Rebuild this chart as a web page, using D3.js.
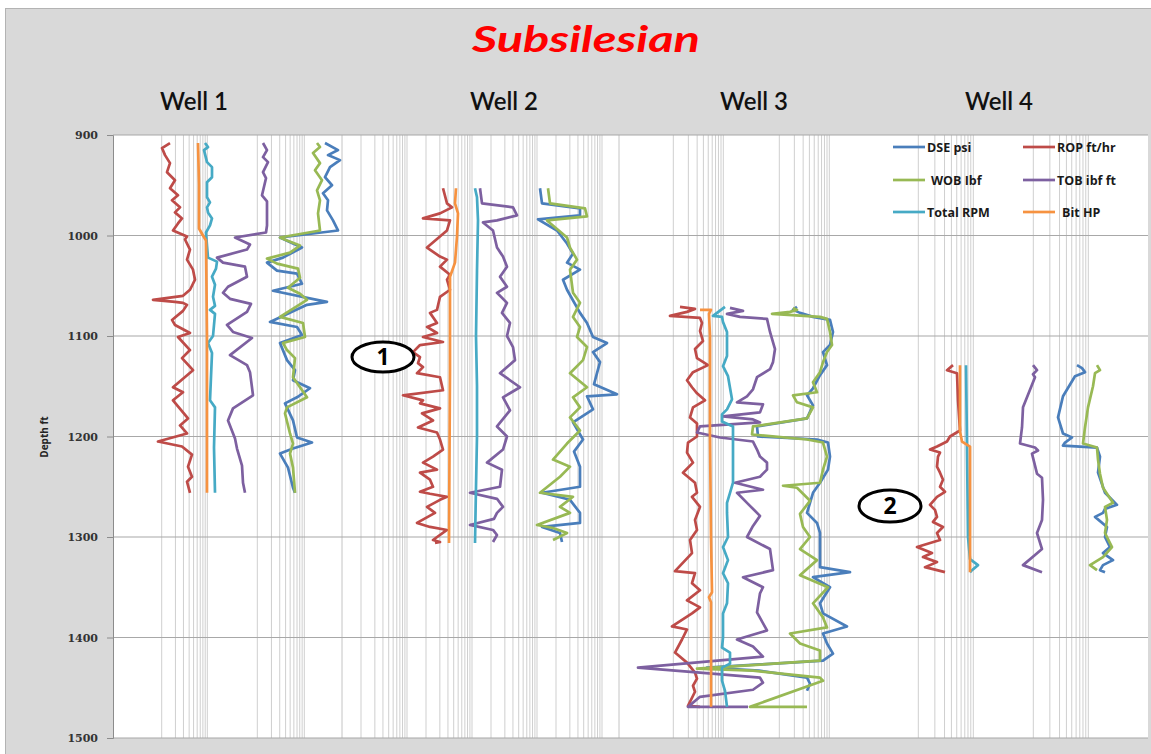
<!DOCTYPE html>
<html>
<head>
<meta charset="utf-8">
<script src="https://cdn.jsdelivr.net/npm/d3@7"></script>
<style>
  body { margin: 0; background: #fff; }
  svg text { font-family: "Open Sans", sans-serif; }
</style>
</head>
<body>
<div id="chart"></div>
<script>
// chart labels
var chartTitle = "Subsilesian";
var wellNames = ["Well 1", "Well 2", "Well 3", "Well 4"];
var seriesNames = ["DSE psi", "ROP ft/hr", "WOB Ibf", "TOB ibf ft", "Total RPM", "Bit HP"];
var depthTicks = [900, 1000, 1100, 1200, 1300, 1400, 1500];

// each series: [depth ft, track position]
var w1_dse = [[908,212],[915,225],[920,215],[925,227],[932,217],[942,212],[950,219],[958,210],[965,215],[975,214],[985,220],[995,225],[1002,167],[1008,180],[1012,189],[1022,170],[1027,154],[1035,164],[1038,184],[1048,189],[1055,160],[1064,204],[1066,214],[1069,194],[1086,157],[1091,184],[1099,189],[1107,167],[1124,174],[1134,182],[1144,180],[1152,197],[1161,184],[1167,172],[1184,180],[1201,184],[1206,199],[1212,180],[1217,167],[1231,175],[1251,180],[1256,182]];
var w1_rop = [[908,57],[913,49],[920,52],[928,57],[937,54],[945,62],[953,57],[960,65],[965,59],[972,67],[977,62],[983,69],[988,65],[995,60],[1001,74],[1004,72],[1014,77],[1024,74],[1034,80],[1044,82],[1050,79],[1054,77],[1060,70],[1064,40],[1066,62],[1067,70],[1069,74],[1075,70],[1084,59],[1089,62],[1097,77],[1101,65],[1114,77],[1122,69],[1134,80],[1151,60],[1156,70],[1164,60],[1182,75],[1189,67],[1197,74],[1205,45],[1210,69],[1218,79],[1230,75],[1240,79],[1245,74],[1256,77]];
var w1_wob = [[908,204],[912,207],[918,200],[928,207],[935,202],[945,209],[955,204],[965,207],[978,205],[995,207],[1002,167],[1005,174],[1010,187],[1017,177],[1023,154],[1028,164],[1033,185],[1042,187],[1052,175],[1058,187],[1064,194],[1081,167],[1087,190],[1101,192],[1107,170],[1114,174],[1122,182],[1141,180],[1161,194],[1171,174],[1177,172],[1197,177],[1207,180],[1217,177],[1231,180],[1256,182]];
var w1_tob = [[908,150],[915,154],[922,150],[927,155],[937,150],[943,153],[960,149],[966,154],[990,154],[997,153],[1002,122],[1009,137],[1014,134],[1022,104],[1027,110],[1031,132],[1041,134],[1051,115],[1057,110],[1063,117],[1068,138],[1076,134],[1089,114],[1096,120],[1102,139],[1119,117],[1129,134],[1136,137],[1159,140],[1172,120],[1184,115],[1202,122],[1212,124],[1229,129],[1246,130],[1256,132]];
var w1_rpm = [[908,92],[912,95],[915,91],[927,94],[932,99],[942,99],[947,94],[962,94],[967,97],[972,94],[977,95],[983,99],[990,97],[997,93],[1010,94],[1022,95],[1026,104],[1033,103],[1041,99],[1049,102],[1061,100],[1070,102],[1074,97],[1078,102],[1100,100],[1107,95],[1117,99],[1164,97],[1171,102],[1211,101],[1256,102]];
var w1_bhp = [[908,85],[950,86],[993,86],[1000,90],[1005,93],[1100,94],[1200,94],[1256,94]];

var w2_dse = [[953,198],[968,200],[973,238],[980,238],[984,196],[995,215],[1008,225],[1018,231],[1027,225],[1034,238],[1044,221],[1054,225],[1077,238],[1087,245],[1101,251],[1107,265],[1116,251],[1126,258],[1137,255],[1148,252],[1158,275],[1160,245],[1173,251],[1186,231],[1203,241],[1215,232],[1230,238],[1250,238],[1256,200],[1263,228],[1276,238],[1286,238],[1290,200],[1296,218],[1305,220]];
var w2_rop = [[953,101],[968,105],[972,110],[978,98],[983,81],[985,108],[995,105],[1012,85],[1021,98],[1024,105],[1031,98],[1039,108],[1044,105],[1054,108],[1061,98],[1074,95],[1077,88],[1087,95],[1091,85],[1097,95],[1101,81],[1106,101],[1109,78],[1116,71],[1121,78],[1127,76],[1131,81],[1137,75],[1141,98],[1154,101],[1159,61],[1164,81],[1167,78],[1172,98],[1177,80],[1184,91],[1191,76],[1196,95],[1203,98],[1213,101],[1220,91],[1226,81],[1233,95],[1236,78],[1243,88],[1250,91],[1255,78],[1257,88],[1260,105],[1263,98],[1270,85],[1276,93],[1286,75],[1290,88],[1293,105],[1303,91],[1305,98],[1306,93]];
var w2_wob = [[953,206],[968,208],[973,243],[981,245],[985,205],[1002,225],[1012,228],[1024,235],[1034,228],[1057,231],[1067,238],[1081,231],[1091,238],[1101,235],[1111,245],[1124,241],[1137,228],[1151,245],[1161,231],[1171,238],[1181,228],[1194,238],[1207,225],[1223,211],[1230,228],[1240,218],[1256,198],[1260,231],[1270,218],[1276,228],[1288,195],[1291,211],[1296,225],[1303,211]];
var w2_tob = [[953,138],[968,140],[972,171],[980,175],[985,155],[987,141],[995,151],[1012,155],[1021,161],[1031,165],[1041,158],[1051,165],[1057,155],[1067,165],[1077,160],[1087,168],[1100,165],[1111,171],[1124,173],[1137,158],[1151,178],[1161,161],[1174,168],[1190,155],[1200,165],[1213,161],[1226,145],[1233,160],[1250,158],[1256,128],[1262,155],[1270,161],[1276,155],[1282,152],[1288,128],[1293,151],[1298,155],[1305,151]];
var w2_rpm = [[953,133],[962,135],[985,136],[1035,135],[1100,134],[1150,135],[1200,135],[1250,134],[1306,133]];
var w2_bhp = [[953,114],[968,113],[978,116],[1001,115],[1027,113],[1041,108],[1134,108],[1306,107]];

var w3_dse = [[1071,178],[1074,174],[1077,181],[1081,194],[1084,211],[1096,214],[1109,211],[1116,204],[1129,208],[1139,201],[1152,194],[1159,188],[1169,194],[1182,188],[1190,138],[1200,139],[1203,198],[1206,209],[1220,211],[1233,209],[1246,201],[1256,194],[1266,191],[1276,188],[1286,198],[1296,201],[1330,201],[1335,231],[1340,194],[1350,211],[1366,201],[1376,204],[1389,228],[1396,204],[1406,208],[1416,214],[1423,204],[1430,88],[1433,140],[1440,188],[1446,191],[1453,188]];
var w3_rop = [[1071,61],[1073,76],[1076,68],[1080,51],[1082,81],[1087,83],[1095,81],[1105,84],[1113,76],[1122,78],[1129,89],[1136,74],[1144,68],[1151,73],[1157,78],[1164,86],[1171,74],[1181,71],[1187,78],[1200,78],[1206,69],[1216,68],[1226,74],[1236,64],[1246,76],[1256,78],[1260,73],[1270,81],[1283,76],[1293,78],[1303,71],[1316,73],[1334,56],[1336,76],[1346,73],[1353,81],[1363,68],[1370,81],[1376,73],[1389,53],[1392,68],[1402,63],[1415,56],[1425,68],[1435,76],[1441,78],[1448,74],[1454,76],[1468,69],[1469,81]];
var w3_wob = [[1072,174],[1074,178],[1076,171],[1078,153],[1081,201],[1083,208],[1096,211],[1109,213],[1116,208],[1126,204],[1136,201],[1146,194],[1156,198],[1159,174],[1166,178],[1171,194],[1182,188],[1190,134],[1198,133],[1203,188],[1206,204],[1220,208],[1233,204],[1246,201],[1249,164],[1251,178],[1264,191],[1277,181],[1290,184],[1300,191],[1312,181],[1323,198],[1338,181],[1350,209],[1366,194],[1380,204],[1390,208],[1396,171],[1406,181],[1413,201],[1423,201],[1431,78],[1433,134],[1440,201],[1443,204],[1469,131],[1469,188]];
var w3_tob = [[1072,111],[1075,124],[1078,108],[1081,121],[1083,148],[1096,151],[1113,156],[1126,154],[1133,151],[1141,138],[1153,134],[1160,128],[1166,118],[1168,144],[1176,141],[1180,104],[1183,134],[1186,141],[1190,81],[1196,78],[1201,101],[1205,134],[1213,138],[1220,141],[1226,148],[1233,148],[1240,141],[1246,116],[1253,144],[1256,118],[1266,128],[1279,141],[1289,134],[1300,128],[1312,151],[1333,154],[1340,124],[1350,144],[1356,141],[1375,138],[1393,148],[1402,118],[1409,134],[1419,144],[1430,19],[1435,81],[1440,141],[1445,144],[1452,134],[1459,81],[1469,69],[1469,129]];
var w3_rpm = [[1071,106],[1080,94],[1081,103],[1086,104],[1096,108],[1120,108],[1130,104],[1140,109],[1163,113],[1173,108],[1178,103],[1185,103],[1190,114],[1200,114],[1226,114],[1246,114],[1256,111],[1266,108],[1276,108],[1300,109],[1310,104],[1323,109],[1336,104],[1346,109],[1366,108],[1376,104],[1400,104],[1410,103],[1415,111],[1426,111],[1430,103],[1443,103],[1453,106],[1469,108]];
var w3_bhp = [[1074,81],[1074,92],[1078,90],[1100,91],[1200,91],[1300,92],[1355,93],[1360,90],[1365,92],[1469,92]];

var w4_dse = [[1129,217],[1132,222],[1136,225],[1140,215],[1160,203],[1181,198],[1197,203],[1201,212],[1206,205],[1209,203],[1211,237],[1220,240],[1236,238],[1256,245],[1261,250],[1268,257],[1272,245],[1276,243],[1280,235],[1290,247],[1300,245],[1310,250],[1316,243],[1323,253],[1328,243],[1333,240],[1335,245]];
var w4_rop = [[1129,93],[1134,87],[1137,97],[1164,98],[1194,100],[1200,90],[1205,87],[1210,77],[1213,70],[1216,80],[1220,78],[1230,77],[1236,80],[1243,83],[1250,80],[1255,85],[1260,77],[1268,70],[1273,75],[1280,77],[1285,73],[1290,83],[1296,77],[1303,80],[1310,57],[1316,72],[1320,63],[1325,77],[1330,65],[1335,85]];
var w4_wob = [[1129,237],[1134,240],[1137,235],[1150,233],[1171,228],[1191,225],[1207,223],[1211,237],[1223,238],[1237,240],[1251,243],[1266,253],[1270,245],[1283,247],[1296,245],[1310,252],[1320,243],[1328,230],[1333,237]];
var w4_tob = [[1129,173],[1134,177],[1138,173],[1141,175],[1171,163],[1191,162],[1207,160],[1211,175],[1214,178],[1217,172],[1237,177],[1241,182],[1263,183],[1283,182],[1296,177],[1312,182],[1318,175],[1328,163],[1335,182]];
var w4_rpm = [[1129,106],[1210,107],[1300,108],[1322,110],[1328,118],[1333,112],[1335,110]];
var w4_bhp = [[1129,100],[1195,100],[1205,102],[1210,110],[1335,110]];

var wellSeries = [
  [w1_dse, w1_rop, w1_wob, w1_tob, w1_rpm, w1_bhp],
  [w2_dse, w2_rop, w2_wob, w2_tob, w2_rpm, w2_bhp],
  [w3_dse, w3_rop, w3_wob, w3_tob, w3_rpm, w3_bhp],
  [w4_dse, w4_rop, w4_wob, w4_tob, w4_rpm, w4_bhp]
];

// layout (pixels)
var colors = ["#4a7ebb", "#be4b48", "#98b954", "#7d60a0", "#46aac5", "#f69240"];
var width = 1151, height = 754;
var plot = {left: 113, right: 1148, top: 135, bottom: 738};
var panels = [
  {left: 113, right: 342, label: 194, groups: [[161.7, 45.6], [257.3, 47]]},
  {left: 342, right: 619, label: 504, groups: [[361, 46], [426, 46], [491, 46], [556, 46]]},
  {left: 619, right: 860, label: 754, groups: [[673.3, 50], [779.3, 50]]},
  {left: 860, right: 1148, label: 999, groups: [[918.3, 55], [1033.3, 55]]}
];

var svg = d3.select("#chart").append("svg")
    .attr("width", width)
    .attr("height", height);

svg.append("rect")
    .attr("x", 5.5).attr("y", 8.5)
    .attr("width", width - 5).attr("height", height - 8)
    .attr("fill", "#d9d9d9")
    .attr("stroke", "#b3b3b3");

svg.append("rect")
    .attr("x", plot.left).attr("y", plot.top)
    .attr("width", plot.right - plot.left).attr("height", plot.bottom - plot.top)
    .attr("fill", "#fff");

var y = d3.scaleLinear().domain([900, 1500]).range([plot.top, plot.bottom]);

// vertical log gridlines, one log scale per group
panels.forEach(function(p) {
  p.groups.forEach(function(g) {
    var gx = d3.scaleLog().domain([1, 10]).range([g[0], g[0] + g[1]]);
    svg.append("g").selectAll("line")
      .data(d3.range(1, 11))
      .enter().append("line")
        .attr("x1", d => gx(d)).attr("x2", d => gx(d))
        .attr("y1", plot.top).attr("y2", plot.bottom)
        .attr("stroke", "#cfcfcf")
        .attr("stroke-width", 1);
  });
});
[panels[0].right, panels[1].right].forEach(function(px) {
  svg.append("line")
    .attr("x1", px).attr("x2", px)
    .attr("y1", plot.top).attr("y2", plot.bottom)
    .attr("stroke", "#c4c4c4");
});

// horizontal gridlines
svg.append("g").selectAll("line")
  .data(depthTicks)
  .enter().append("line")
    .attr("x1", plot.left).attr("x2", plot.right)
    .attr("y1", d => y(d)).attr("y2", d => y(d))
    .attr("stroke", "#a8a8a8")
    .attr("stroke-width", 1.2);

// depth axis
var yAxis = svg.append("g")
    .attr("transform", "translate(" + plot.left + ",0)")
    .call(d3.axisLeft(y).tickValues(depthTicks).tickSize(6).tickPadding(9).tickFormat(d3.format("d")));
yAxis.select(".domain").attr("stroke", "#8c8c8c");
yAxis.selectAll(".tick line").attr("stroke", "#8c8c8c");
yAxis.selectAll("text")
    .style("font-family", "'DejaVu Serif', serif")
    .style("font-weight", "bold")
    .style("font-size", "11px")
    .attr("fill", "#333");

svg.append("text")
    .attr("transform", "translate(48,437) rotate(-90)")
    .attr("text-anchor", "middle")
    .style("font-size", "10px")
    .style("font-weight", "bold")
    .attr("fill", "#222")
    .text("Depth ft");

// title and well labels
svg.append("text")
    .attr("x", 586).attr("y", 52)
    .attr("text-anchor", "middle")
    .attr("textLength", 228)
    .attr("lengthAdjust", "spacingAndGlyphs")
    .style("font-family", "Lato, sans-serif")
    .style("font-size", "37px")
    .style("font-weight", "bold")
    .style("font-style", "italic")
    .attr("fill", "#ff0000")
    .text(chartTitle);

svg.selectAll(".well-label")
  .data(wellNames)
  .enter().append("text")
    .attr("class", "well-label")
    .attr("x", (d, i) => panels[i].label)
    .attr("y", 110)
    .attr("text-anchor", "middle")
    .style("font-family", "Lato, sans-serif")
    .style("font-size", "24px")
    .style("font-weight", "600")
    .attr("fill", "#111")
    .text(d => d);

// curves
var line = d3.line();
wellSeries.forEach(function(series, wi) {
  var p = panels[wi];
  var x = d3.scaleLinear().domain([0, p.right - p.left]).range([p.left, p.right]);
  line.x(d => x(d[1])).y(d => y(d[0]));
  series.forEach(function(s, si) {
    svg.append("path")
      .attr("d", line(s))
      .attr("fill", "none")
      .attr("stroke", colors[si])
      .attr("stroke-width", 2.7)
      .attr("stroke-linejoin", "round");
  });
});

// callouts
[["1", 383, 357, 31, 15], ["2", 890, 506, 31, 16]].forEach(function(c) {
  svg.append("ellipse")
    .attr("cx", c[1]).attr("cy", c[2])
    .attr("rx", c[3]).attr("ry", c[4])
    .attr("fill", "#fff")
    .attr("stroke", "#000")
    .attr("stroke-width", 3);
  svg.append("text")
    .attr("x", c[1]).attr("y", c[2] + 8)
    .attr("text-anchor", "middle")
    .style("font-size", "23px")
    .style("font-weight", "bold")
    .attr("fill", "#000")
    .text(c[0]);
});

// legend
var legendPos = [[893, 147], [1023, 147], [893, 180], [1023, 180], [893, 212], [1023, 212]];
var legendPad = [2, 2, 6, 2, 2, 7];
var legend = svg.append("g").selectAll("g")
  .data(seriesNames)
  .enter().append("g")
    .attr("transform", (d, i) => "translate(" + legendPos[i][0] + "," + legendPos[i][1] + ")");
legend.append("line")
    .attr("x1", 0).attr("x2", 32)
    .attr("stroke", (d, i) => colors[i])
    .attr("stroke-width", 2.7);
legend.append("text")
    .attr("x", (d, i) => 32 + legendPad[i])
    .attr("y", 5)
    .style("font-size", "12.5px")
    .style("font-weight", "bold")
    .attr("fill", "#1a1a1a")
    .text(d => d);
</script>
</body>
</html>
